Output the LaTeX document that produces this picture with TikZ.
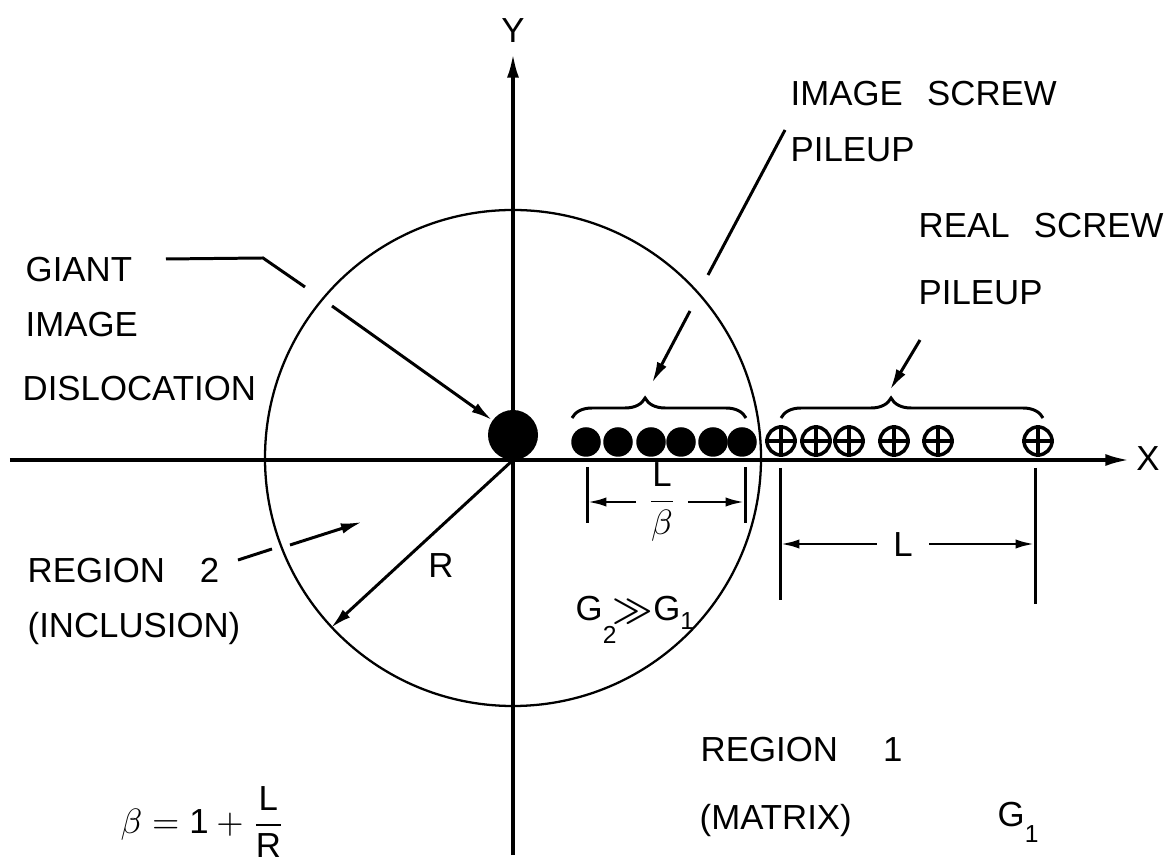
\documentclass[tikz,border=0pt]{standalone}
\usepackage{amsmath}
\usepackage{fontspec}
\setmainfont{Liberation Sans}
\usetikzlibrary{arrows.meta, positioning, calc, decorations.pathreplacing}
\newcommand{\lettering}{\fontsize{9.9pt}{12pt}\selectfont}
\tikzset{
  % Axes and inclusion boundary
  axisline/.style={line width=1.1pt, -{Latex[length=7pt, width=3.4pt]}},
  boundary/.style={circle, draw, line width=0.65pt, inner sep=0pt},
  % Dislocations
  giantdot/.style={circle, fill=black, minimum size=0.5cm, inner sep=0pt},
  imagedot/.style={circle, fill=black, minimum size=0.295cm, inner sep=0pt},
  realdot/.style={circle, draw=black, line width=1pt, minimum size=0.28cm, inner sep=0pt},
  % Labels
  lettertext/.style={font=\lettering, inner sep=0pt, text height=0.25cm, text depth=0pt, anchor=west},
  % Pointers
  leaderline/.style={line width=0.85pt},
  leaderpointer/.style={leaderline, -{Latex[length=6pt, width=3pt]}},
  dimline/.style={line width=0.85pt},
  dimpointer/.style={dimline, -{Latex[length=5.5pt, width=2.6pt]}},
  pileupbrace/.style={line width=0.85pt, decorate, decoration={brace, amplitude=0.2cm, aspect=0.42}},
}

\begin{document}
\begin{tikzpicture}[x=1cm, y=1cm]
  \useasboundingbox (-5.13,-4.01) rectangle (6.60,4.60);

  % axes
  \coordinate (o) at (0,0);
  \coordinate (xstart) at (-5.03,0);
  \coordinate (xend) at (6.17,0);
  \coordinate (ystart) at (0,-3.95);
  \coordinate (yend) at (0,4.07);
  \draw[axisline] (xstart) -- (xend);
  \draw[axisline] (ystart) -- (yend);
  \node[font=\lettering, inner sep=0pt] (xlabel) at (6.35,0.01) {X};
  \node[font=\lettering, inner sep=0pt] (ylabel) at (0,4.29) {Y};

  % inclusion (region 2)
  \node[boundary, minimum size=4.96cm] (incl) at (0,0.02) {};
  \draw[leaderpointer] (o) -- (incl.223);
  \node[lettertext, anchor=center] (rlabel) at (-0.72,-1.05) {R};

  % giant image dislocation
  \node[giantdot] (gdot) at (0,0.25) {};

  % image screw pileup
  \foreach \x [count=\i] in {0.73,1.05,1.38,1.68,2.00,2.29}
    \node[imagedot] (d\i) at (\x,0.18) {};

  % real screw pileup
  \foreach \x [count=\i] in {2.68,3.03,3.36,3.81,4.25,5.25}{
    \node[realdot] (p\i) at (\x,0.19) {};
    \draw[line width=0.9pt] (p\i.north) -- (p\i.south) (p\i.west) -- (p\i.east);
  }

  \draw[pileupbrace] (0.59,0.42) -- (2.33,0.42);
  \draw[pileupbrace] (2.68,0.42) -- (5.30,0.42);

  % spacing dimensions
  \coordinate (lb1) at (0.74,-0.07);
  \coordinate (lb2) at (2.32,-0.07);
  \draw[dimline] (lb1) -- ++(0,-0.56);
  \draw[dimline] (lb2) -- ++(0,-0.56);
  \node[font=\lettering, inner sep=0.1cm] (lbeta) at (1.49,-0.42) {$\dfrac{\text{L}}{\beta}$};
  \draw[dimpointer] (lbeta) -- (lbeta -| lb1);
  \draw[dimpointer] (lbeta) -- (lbeta -| lb2);

  \coordinate (l1) at (2.67,-0.08);
  \coordinate (l2) at (5.22,-0.08);
  \draw[dimline] (l1) -- ++(0,-1.32);
  \draw[dimline] (l2) -- ++(0,-1.36);
  \node[lettertext, anchor=center, inner sep=0.16cm] (lnode) at (3.90,-0.84) {L};
  \draw[dimpointer] (lnode) -- (lnode -| l1);
  \draw[dimpointer] (lnode) -- (lnode -| l2);

  % labels
  \node[lettertext] (giant) at (-4.88,1.905) {GIANT};
  \node[lettertext] (giantimage) at (-4.88,1.355) {IMAGE};
  \node[lettertext] (giantdisl) at (-4.91,0.72) {DISLOCATION};
  \node[lettertext] (imgscrew) at (2.77,3.67) {IMAGE\hspace{0.7em}SCREW};
  \node[lettertext] (imgpile) at (2.77,3.11) {PILEUP};
  \node[lettertext] (realscrew) at (4.05,2.35) {REAL\hspace{0.7em}SCREW};
  \node[lettertext] (realpile) at (4.05,1.68) {PILEUP};
  \node[lettertext] (regtwo) at (-4.86,-1.10) {REGION\quad 2};
  \node[lettertext] (inclusion) at (-4.86,-1.65) {(INCLUSION)};
  \node[lettertext] (regone) at (1.87,-2.89) {REGION\hspace{1.3em}1};
  \node[lettertext] (matrix) at (1.86,-3.57) {(MATRIX)};
  \node[lettertext] (gone) at (4.84,-3.54) {G\raisebox{-0.46em}{\scriptsize 1}};
  \node[lettertext] (ratio) at (0.62,-1.48) {G\raisebox{-0.66em}{\scriptsize 2}\hspace{-0.1em}$\boldsymbol{\gg}$G\raisebox{-0.25em}{\scriptsize 1}};
  \node[font=\lettering, inner sep=0pt, anchor=west] (betadef) at (-3.93,-3.62) {$\beta = \text{1} + \dfrac{\text{L}}{\text{R}}$};

  % leaders
  \coordinate (gl1) at (-3.47,2.01);
  \coordinate (gl2) at (-2.50,2.02);
  \coordinate (gl3) at (-2.08,1.73);
  \coordinate (ga) at (-1.81,1.54);
  \draw[leaderline] (gl1) -- (gl2) -- (gl3);
  \draw[leaderpointer] (ga) -- (gdot);

  \coordinate (il1) at (2.72,3.30);
  \coordinate (il2) at (1.95,1.85);
  \coordinate (ia) at (1.77,1.49);
  \coordinate (itip) at (1.39,0.77);
  \draw[leaderline] (il1) -- (il2);
  \draw[leaderpointer] (ia) -- (itip);

  \coordinate (ra) at (4.07,1.20);
  \coordinate (rtip) at (3.77,0.70);
  \draw[leaderpointer] (ra) -- (rtip);

  \coordinate (rl1) at (-2.75,-1.00);
  \coordinate (rl2) at (-2.41,-0.89);
  \coordinate (rga) at (-2.23,-0.85);
  \coordinate (rgtip) at (-1.51,-0.62);
  \draw[leaderline] (rl1) -- (rl2);
  \draw[leaderpointer] (rga) -- (rgtip);

\end{tikzpicture}
\end{document}
